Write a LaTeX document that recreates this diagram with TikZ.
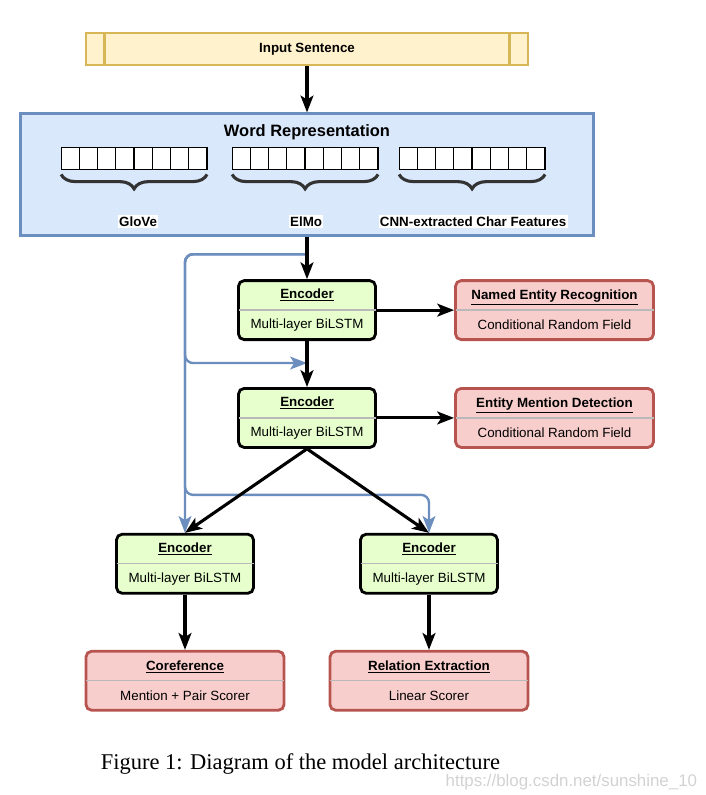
\documentclass[tikz,border=0pt]{standalone}
\usepackage{fontspec}
\setmainfont{Liberation Serif}
\setsansfont{Liberation Sans}
\usetikzlibrary{positioning,calc,arrows.meta,decorations.pathreplacing}

\definecolor{inedge}{HTML}{D6B656}
\definecolor{infill}{HTML}{FFF2CC}
\definecolor{repedge}{HTML}{6C8EBF}
\definecolor{repfill}{HTML}{DAE8FC}
\definecolor{encfill}{HTML}{E6FFCC}
\definecolor{taskedge}{HTML}{B85450}
\definecolor{taskfill}{HTML}{F8CECC}

\tikzset{
  txt/.style={font=\sffamily\fontsize{9.5}{11.4}\selectfont},
  inbox/.style={txt, font=\sffamily\bfseries\fontsize{9.5}{11.4}\selectfont, draw=inedge, fill=infill,
    line width=2pt, minimum width=11.05cm, minimum height=0.8cm},
  repbox/.style={draw=repedge, fill=repfill, line width=2pt, minimum width=14.325cm, minimum height=3.05cm},
  encbox/.style={txt, draw=black, fill=encfill, line width=2pt, rounded corners=4pt,
    minimum width=3.425cm, minimum height=1.475cm, align=center, inner sep=1pt},
  taskbox/.style={txt, draw=taskedge, fill=taskfill, line width=2pt, rounded corners=4pt,
    minimum width=4.95cm, minimum height=1.475cm, align=center, inner sep=1pt},
  sepline/.style={gray!55, line width=0.9pt, shorten <=1pt, shorten >=1pt},
  cell/.style={draw=black, fill=white, line width=0.8pt},
  vecbrace/.style={decorate, decoration={brace, mirror, amplitude=0.36cm}, line width=2.2pt, draw=black!80},
  veclab/.style={txt, font=\sffamily\bfseries\fontsize{9.5}{11.4}\selectfont, fill=white, inner sep=1pt},
  flow/.style={-{Stealth[length=0.42cm, width=0.32cm, inset=0.1cm]}, line width=2.2pt},
  skip/.style={-{Stealth[length=0.42cm, width=0.32cm, inset=0.1cm]}, line width=1.7pt, draw=repedge, rounded corners=0.2cm}
}

\begin{document}
\begin{tikzpicture}
\useasboundingbox (0,0) rectangle (17.65,-19.875);
\node [inbox] (input) at (7.675,-1.225) {Input Sentence};
\draw [inedge, line width=2pt] ([xshift=0.5cm]input.north west) -- ([xshift=0.5cm]input.south west);
\draw [inedge, line width=2pt] ([xshift=-0.5cm]input.north east) -- ([xshift=-0.5cm]input.south east);
%----------------------------------
\node [repbox, below=1.15cm of input] (wordrep) {};
\node [txt, font=\sffamily\bfseries\fontsize{11.7}{14}\selectfont] (reptitle) at ([yshift=-0.5cm]wordrep.north) {Word Representation};
\foreach \gx/\name/\lx/\lab in {1.05/glove/2.975/GloVe, 5.325/elmo/7.175/ElMo, 9.5/cnn/11.35/CNN-extracted Char Features}{
  \foreach \i in {0,...,7}
    \draw [cell] ($(wordrep.north west)+(\gx+\i*0.456,-0.875)$) rectangle ++(0.456,-0.55);
  \draw [vecbrace] ($(wordrep.north west)+(\gx,-1.55)$) -- ++(3.65,0);
  \node [veclab] (\name) at ($(wordrep.north west)+(\lx,-2.725)$) {\lab};
}
%----------------------------------
\node [encbox, below=1.05cm of wordrep] (enc1) {\underline{\textbf{Encoder}}\\[10pt]Multi-layer BiLSTM};
\node [taskbox, right=1.93cm of enc1] (ner) {\underline{\textbf{Named Entity Recognition}}\\[10pt]Conditional Random Field};
\node [encbox, below=1.15cm of enc1] (enc2) {\underline{\textbf{Encoder}}\\[10pt]Multi-layer BiLSTM};
\node [taskbox, right=1.93cm of enc2] (emd) {\underline{\textbf{Entity Mention Detection}}\\[10pt]Conditional Random Field};
%----------------------------------
\node [encbox, below=2.1cm of enc2, xshift=-3.05cm] (enc3) {\underline{\textbf{Encoder}}\\[10pt]Multi-layer BiLSTM};
\node [encbox, below=2.1cm of enc2, xshift=3.05cm] (enc4) {\underline{\textbf{Encoder}}\\[10pt]Multi-layer BiLSTM};
\node [taskbox, below=1.38cm of enc3] (coref) {\underline{\textbf{Coreference}}\\[10pt]Mention + Pair Scorer};
\node [taskbox, below=1.38cm of enc4] (relext) {\underline{\textbf{Relation Extraction}}\\[10pt]Linear Scorer};
\foreach \n in {enc1,ner,enc2,emd,enc3,enc4,coref,relext}
  \draw [sepline] (\n.west) -- (\n.east);
%----------------------------------
\coordinate (split) at ([yshift=-0.425cm]wordrep.south);
\coordinate (join) at ([yshift=-0.55cm]enc1.south);
\coordinate (fork) at ([yshift=-1.15cm]enc2.south);
\draw [skip] (split) -| (enc3.north);
\draw [skip] (split) -| (enc3.north |- join) -- (join);
\draw [skip] (split) -| (enc3.north |- fork) -| (enc4.north);
%----------------------------------
\draw [flow] (input) -- (wordrep);
\draw [flow] (wordrep.south) -- (enc1.north);
\draw [flow] (enc1) -- (ner);
\draw [flow] (enc1) -- (enc2);
\draw [flow] (enc2) -- (emd);
\draw [flow] (enc2.south) -- (enc3.north);
\draw [flow] (enc2.south) -- (enc4.north);
\draw [flow] (enc3) -- (coref);
\draw [flow] (enc4) -- (relext);
%----------------------------------
\node [font=\fontsize{16}{19}\selectfont] (caption) at (7.51,-19.1) {Figure 1: Diagram of the model architecture};
\node [anchor=east, font=\sffamily\fontsize{12}{14}\selectfont, text=gray!35] (mark) at (17.55,-19.55) {https://blog.csdn.net/sunshine\_10};
\end{tikzpicture}
\end{document}
